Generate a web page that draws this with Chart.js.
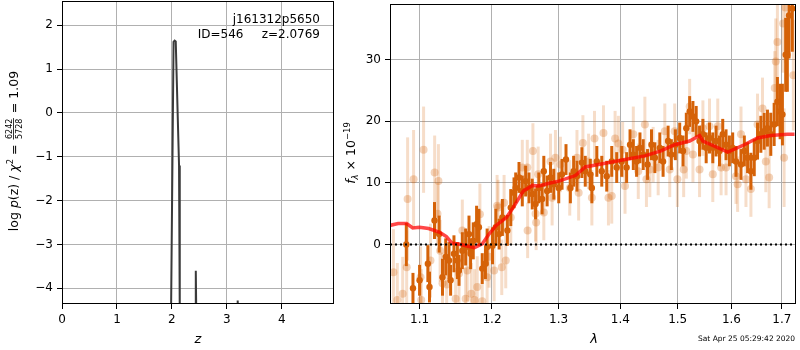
<!DOCTYPE html>
<html><head><meta charset="utf-8">
<script src="https://cdn.jsdelivr.net/npm/chart.js@4.4.0/dist/chart.umd.min.js"></script>
<style>
html,body{margin:0;padding:0;background:#fff;}
#wrap{position:relative;width:800px;height:350px;overflow:hidden;background:#fff;}
.box{position:absolute;top:0;}
canvas{display:block;}
</style></head><body>
<div id="wrap">
<div class="box" style="left:0;width:340px;height:350px"><canvas id="pz" width="340" height="350"></canvas></div>
<div class="box" style="left:340px;width:460px;height:350px"><canvas id="spec" width="460" height="350"></canvas></div>
</div>
<script>
// ---------- left panel: log p(z) ----------
const pzZ    = [0, 1.98, 1.985, 2.03, 2.05, 2.07, 2.13, 2.143, 2.15, 2.42, 2.427, 2.432, 2.438, 2.443, 2.45, 3.18, 3.19, 3.195, 3.2, 3.205, 3.22, 4.95];
const pzLogp = [-30, -30, -4.5, 1.62, 1.65, 1.63, -1.2, -4.5, -30, -30, -4.5, -3.6, -3.62, -4.5, -30, -30, -4.5, -4.28, -4.3, -4.5, -30, -30];
const pzXTicks = [0, 1, 2, 3, 4];
const pzYTicks = [-4, -3, -2, -1, 0, 1, 2];

// ---------- right panel: spectrum ----------
const specXTicks = [1.1, 1.2, 1.3, 1.4, 1.5, 1.6, 1.7];
const specYTicks = [0, 10, 20, 30];

const darkWave = [1.0826,1.0913,1.1000,1.1110,1.1132,1.1199,1.1262,1.1307,1.1351,1.1396,1.1418,1.1464,1.1511,1.1534,1.1580,1.1626,1.1673,1.1695,1.1733,1.1780,1.1813,1.1860,1.1906,1.1930,1.2007,1.2055,1.2103,1.2151,1.2224,1.2274,1.2322,1.2347,1.2396,1.2445,1.2495,1.2545,1.2595,1.2645,1.2695,1.2745,1.2771,1.2822,1.2874,1.2925,1.3002,1.3054,1.3116,1.3185,1.3237,1.3290,1.3369,1.3423,1.3504,1.3530,1.3611,1.3692,1.3774,1.3857,1.3940,1.4024,1.4107,1.4165,1.4221,1.4277,1.4335,1.4391,1.4466,1.4535,1.4594,1.4681,1.4739,1.4828,1.4886,1.4958,1.5036,1.5096,1.5156,1.5217,1.5277,1.5337,1.5399,1.5461,1.5522,1.5584,1.5646,1.5708,1.5772,1.5834,1.5897,1.5961,1.6024,1.6088,1.6185,1.6250,1.6314,1.6379,1.6445,1.6510,1.6576,1.6642,1.6708,1.6775,1.6843,1.6909,1.6964,1.7011,1.7078,1.7112,1.7147,1.7215];
const darkFlux = [0.0,-7.1,-5.8,-3.1,-6.9,3.9,1.7,-5.3,-2.0,-2.6,-5.8,-1.5,-2.6,-4.2,-1.0,-0.4,1.7,-1.5,0.6,3.3,2.8,-3.9,-3.1,-0.4,-0.2,2.8,1.7,4.4,2.3,6.0,8.4,9.2,10.9,8.7,10.3,9.2,8.2,6.6,9.2,7.4,11.9,8.7,10.9,9.8,9.2,11.4,13.8,9.2,11.9,11.1,13.3,11.9,11.4,9.2,13.5,11.9,11.1,13.5,12.5,13.5,12.5,16.2,14.6,13.5,15.7,14.6,13.0,16.2,14.1,15.7,13.5,16.8,14.6,16.2,17.3,15.2,18.9,21.6,20.8,20.0,16.8,17.9,15.7,17.3,15.7,16.8,15.2,17.9,16.2,15.2,15.7,13.5,13.0,15.2,14.1,11.9,14.1,16.8,17.9,18.4,18.9,17.9,19.5,23.2,21.6,21.1,30.8,30.8,37.2,38.3];
const darkErr  = [3.5,2.5,2.5,3.0,2.5,3.0,3.0,3.0,3.0,3.0,2.5,3.0,3.0,2.5,3.0,3.0,3.0,2.5,3.0,3.0,3.0,2.5,2.5,3.0,3.0,3.0,2.5,3.0,2.5,3.0,2.5,2.5,2.5,2.5,2.5,2.5,2.5,2.5,2.5,2.5,2.5,2.5,2.5,2.5,2.5,2.5,2.5,2.5,2.5,2.5,2.5,2.5,2.5,2.5,2.5,2.5,2.5,2.5,2.5,2.5,2.5,2.5,2.5,2.5,2.5,2.5,2.5,2.5,2.5,2.5,2.5,2.5,2.5,2.5,2.5,2.5,2.5,2.5,2.5,2.5,2.5,2.5,2.5,2.5,2.5,2.5,2.5,2.5,2.5,2.5,2.5,2.5,2.5,2.5,2.5,3.0,3.0,3.0,3.0,3.0,3.0,3.5,3.5,4.0,4.5,5.0,6.0,6.0,7.0,7.0];

const lightWave = [1.0660,1.0710,1.0779,1.0831,1.0843,1.0921,1.1013,1.1022,1.1053,1.1145,1.1201,1.1239,1.1252,1.1275,1.1307,1.1364,1.1487,1.1534,1.1580,1.1626,1.1649,1.1705,1.1751,1.1789,1.1827,1.1860,1.1930,1.1959,1.2031,1.2074,1.2088,1.2142,1.2176,1.2200,1.2274,1.2445,1.2520,1.2525,1.2605,1.2645,1.2654,1.2685,1.2771,1.2874,1.2899,1.2951,1.3028,1.3175,1.3290,1.3317,1.3385,1.3477,1.3530,1.3573,1.3720,1.3802,1.3857,1.3913,1.3968,1.4040,1.4080,1.4221,1.4306,1.4420,1.4447,1.4506,1.4564,1.4652,1.4769,1.4857,1.4946,1.4994,1.5108,1.5156,1.5217,1.5277,1.5399,1.5461,1.5584,1.5646,1.5740,1.5803,1.5897,1.6088,1.6120,1.6185,1.6282,1.6379,1.6510,1.6609,1.6675,1.6742,1.6855,1.6876,1.6909,1.7025,1.7045,1.7072,1.7236];
const lightFlux = [-4.5,-9.0,-8.0,-3.7,7.4,10.6,-5.3,-9.0,15.4,-2.6,11.7,5.0,10.3,-1.0,-6.3,-6.5,-8.8,-4.7,2.3,-8.8,-4.2,-8.0,-9.0,-6.9,4.9,-9.2,-5.3,-2.0,-4.2,6.3,6.0,-3.7,6.8,-2.6,4.4,12.5,12.5,2.3,15.2,5.0,3.6,11.4,5.2,13.5,7.6,14.1,13.0,9.2,14.1,8.4,16.5,13.5,7.6,17.2,18.1,7.6,7.9,17.2,16.4,15.4,9.5,17.9,11.9,19.5,10.6,12.2,14.6,12.5,18.4,12.2,18.4,10.6,12.2,15.2,22.4,14.6,12.2,18.9,19.2,11.4,19.2,12.5,12.5,11.1,9.8,17.9,10.6,9.0,19.5,22.1,13.5,10.9,25.4,29.7,32.9,35.9,14.1,38.5,27.5];
const lightErr  = [7,6,6,6,10,8,5,5,7,6,6,5,6,5,5,5,5,5,5,5,5,5,5,5,5,5,5,5,5,5,4.5,4.5,4.5,4.5,4.5,4.5,4.5,4.5,4.5,4.5,4.5,4.5,4.5,4.5,4.5,4.5,4.5,4.5,4.5,4.5,4.5,4.5,4.5,4.5,4.5,4.5,4.5,4.5,4.5,4.5,4.5,4.5,4.5,4.5,4.5,4.5,4.5,4.5,4.5,4.5,4.5,4.5,4.5,4.5,4.5,4.5,4.5,4.5,4.5,4.5,4.5,4.5,4.5,4.5,4.5,4.5,4.5,4.5,5,5,5,5,6,7,7,8,8,9,9];

const modelWave = [1.0613,1.072,1.083,1.091,1.100,1.112,1.127,1.136,1.144,1.153,1.163,1.175,1.186,1.195,1.206,1.221,1.231,1.246,1.260,1.2695,1.287,1.3002,1.3265,1.3423,1.3747,1.4013,1.4420,1.4702,1.4946,1.5217,1.5399,1.5461,1.5615,1.5929,1.6250,1.6510,1.6775,1.7112,1.7260];
const modelFlux = [3.1,3.4,3.4,2.7,2.8,2.6,2.0,1.3,0.2,0.1,-0.2,-0.5,0.1,1.6,3.1,4.4,6.0,8.7,9.6,9.5,10.0,10.3,11.2,12.6,13.2,13.7,14.4,15.2,16.2,16.8,17.7,16.8,16.2,15.0,16.2,17.3,17.7,17.9,17.9];

const zeroWave = [1.0616, 1.7291];
const zeroFlux = [0, 0];

// ---------- helpers ----------
Chart.defaults.font.family = "'DejaVu Sans', sans-serif";
Chart.defaults.font.size = 12;
Chart.defaults.color = '#000';
Chart.defaults.animation = false;

const FONT = '"DejaVu Sans"';
const gridOpts = { color:'#b0b0b0', lineWidth:1, tickColor:'#000', tickLength:5, tickWidth:1, drawTicks:true };
const setTicks = list => s => { s.ticks = list.map(v => ({ value: v })); };
const minus = v => String(v).replace('-', '\u2212');
const pts = (xs, ys) => xs.map((x, i) => ({ x: x, y: ys[i] }));
const fitX = s => { s.height = 46; s.paddingLeft = 0; s.paddingRight = 0; };
const fitYw = w => s => { s.width = w; s.paddingTop = 0; s.paddingBottom = 0; };

const framePlugin = {
  id: 'frame',
  afterDraw(chart) {
    const a = chart.chartArea, c = chart.ctx;
    c.save(); c.strokeStyle = '#000'; c.lineWidth = 1;
    c.strokeRect(Math.round(a.left) + 0.5, Math.round(a.top) + 0.5, Math.round(a.right - a.left) - 1, Math.round(a.bottom - a.top) - 1);
    c.restore();
  }
};

const errPlugin = {
  id: 'errbars',
  beforeDatasetDraw(chart, args) {
    const ds = chart.data.datasets[args.index];
    if (!ds.errors) return;
    const xs = chart.scales.x, ys = chart.scales.y, c = chart.ctx, a = chart.chartArea;
    c.save();
    c.beginPath(); c.rect(a.left, a.top, a.right - a.left, a.bottom - a.top); c.clip();
    c.strokeStyle = ds.errColor; c.lineWidth = ds.errWidth; c.lineCap = 'butt';
    ds.data.forEach((p, i) => {
      const x = xs.getPixelForValue(p.x);
      c.beginPath();
      c.moveTo(x, ys.getPixelForValue(p.y - ds.errors[i]));
      c.lineTo(x, ys.getPixelForValue(p.y + ds.errors[i]));
      c.stroke();
    });
    c.restore();
  }
};

function drawRich(ctx, segs, cx, cy, angle) {
  ctx.save(); ctx.translate(cx, cy); ctx.rotate(angle);
  ctx.textBaseline = 'alphabetic'; ctx.textAlign = 'left'; ctx.fillStyle = '#000';
  let total = 0;
  segs.forEach(s => { ctx.font = s.font; if (s.w === undefined) s.w = ctx.measureText(s.t).width; total += s.w; });
  let x = -total / 2;
  segs.forEach(s => { ctx.font = s.font; if (s.draw) s.draw(ctx, x, s.w); else ctx.fillText(s.t, x, s.dy || 0); x += s.w; });
  ctx.restore();
}

const pzText = {
  id: 'pzText',
  afterDraw(chart) {
    const c = chart.ctx;
    c.save(); c.fillStyle = '#000'; c.font = '12px ' + FONT; c.textBaseline = 'middle'; c.textAlign = 'right';
    c.fillText('j161312p5650', 320, 20);
    c.fillText('ID=546', 243.5, 35);
    c.fillText('z=2.0769', 320, 35);
    c.textAlign = 'center'; c.font = 'italic 13px ' + FONT;
    c.fillText('z', 198, 340);
    c.restore();
    const N = '12.5px ' + FONT, I = 'italic 12.5px ' + FONT, S = '8.5px ' + FONT, F = '8px ' + FONT;
    c.font = F;
    const fw = Math.max(c.measureText('6242').width, c.measureText('5728').width) + 3;
    drawRich(c, [
      { t: 'log ', font: N }, { t: 'p', font: I }, { t: '(z) / ', font: N },
      { t: '\u03c7', font: I }, { t: '2', font: S, dy: -5.5 }, { t: ' = ', font: N },
      { t: '', font: F, w: fw, draw: (ctx, x, w) => {
          ctx.textAlign = 'center';
          ctx.fillText('6242', x + w / 2, -6.5);
          ctx.fillText('5728', x + w / 2, 4);
          ctx.fillRect(x + 1, -5, w - 2, 0.8);
          ctx.textAlign = 'left';
        } },
      { t: ' = 1.09', font: N }
    ], 18, 151, -Math.PI / 2);
  }
};

const specText = {
  id: 'specText',
  afterDraw(chart) {
    const c = chart.ctx;
    c.save(); c.fillStyle = '#000';
    c.textAlign = 'center'; c.textBaseline = 'middle'; c.font = 'italic 13px ' + FONT;
    c.fillText('\u03bb', 254, 340);
    c.textAlign = 'left'; c.font = '7.5px ' + FONT;
    c.fillText('Sat Apr 25 05:29:42 2020', 358, 339.5);
    c.restore();
    const N = '12.5px ' + FONT, I = 'italic 12.5px ' + FONT, S = '8.5px ' + FONT, SI = 'italic 8.5px ' + FONT;
    drawRich(c, [
      { t: 'f', font: I }, { t: '\u03bb', font: SI, dy: 3 }, { t: ' \u00d7 10', font: N }, { t: '\u221219', font: S, dy: -5.5 }
    ], 15, 153, -Math.PI / 2);
  }
};

// ---------- left chart ----------
new Chart(document.getElementById('pz'), {
  type: 'scatter',
  data: { datasets: [{
    data: pts(pzZ, pzLogp), showLine: true, borderColor: '#3a3a3a', borderWidth: 2,
    pointRadius: 0, clip: 0, tension: 0, borderJoinStyle: 'miter'
  }]},
  options: {
    responsive: false, animation: false, devicePixelRatio: 1,
    layout: { padding: { left: 0, right: 6, top: 1, bottom: 0 } },
    plugins: { legend: { display: false }, tooltip: { enabled: false } },
    scales: {
      x: { type: 'linear', min: 0, max: 4.95, afterBuildTicks: setTicks(pzXTicks), afterFit: fitX,
           grid: gridOpts, border: { display: false }, ticks: { padding: 4, maxRotation: 0, autoSkip: false, callback: v => minus(v) } },
      y: { type: 'linear', min: -4.358, max: 2.554, afterBuildTicks: setTicks(pzYTicks), afterFit: fitYw(62),
           grid: gridOpts, border: { display: false }, ticks: { padding: 4, autoSkip: false, callback: v => minus(v) } }
    }
  },
  plugins: [framePlugin, pzText]
});

// ---------- right chart ----------
const ORANGE = 'rgb(213,98,8)';
new Chart(document.getElementById('spec'), {
  type: 'scatter',
  data: { datasets: [
    { data: pts(zeroWave, zeroFlux), showLine: true, borderColor: '#000', borderWidth: 2, borderDash: [2, 3],
      pointRadius: 0, order: 0, clip: 0 },
    { data: pts(modelWave, modelFlux), showLine: true, borderColor: 'rgba(255,0,0,0.72)', borderWidth: 3.5,
      pointRadius: 0, order: 1, clip: 0, tension: 0 },
    { data: pts(darkWave, darkFlux), errors: darkErr, errColor: ORANGE, errWidth: 3,
      backgroundColor: ORANGE, borderWidth: 0, pointRadius: 3.2, order: 2, clip: 0 },
    { data: pts(lightWave, lightFlux), errors: lightErr, errColor: 'rgba(213,98,8,0.22)', errWidth: 3,
      backgroundColor: 'rgba(213,98,8,0.28)', borderWidth: 0, pointRadius: 4, order: 3, clip: 0 }
  ]},
  options: {
    responsive: false, animation: false, devicePixelRatio: 1,
    layout: { padding: { left: 0, right: 2, top: 1, bottom: 0 } },
    plugins: { legend: { display: false }, tooltip: { enabled: false } },
    scales: {
      x: { type: 'logarithmic', min: 1.0616, max: 1.7291, afterBuildTicks: setTicks(specXTicks), afterFit: fitX,
           grid: gridOpts, border: { display: false }, ticks: { padding: 4, maxRotation: 0, autoSkip: false, callback: v => Number(v).toFixed(1) } },
      y: { type: 'linear', min: -9.65, max: 39.05, afterBuildTicks: setTicks(specYTicks), afterFit: fitYw(50),
           grid: gridOpts, border: { display: false }, ticks: { padding: 4, autoSkip: false, callback: v => minus(v) } }
    }
  },
  plugins: [errPlugin, framePlugin, specText]
});
</script>
</body></html>
